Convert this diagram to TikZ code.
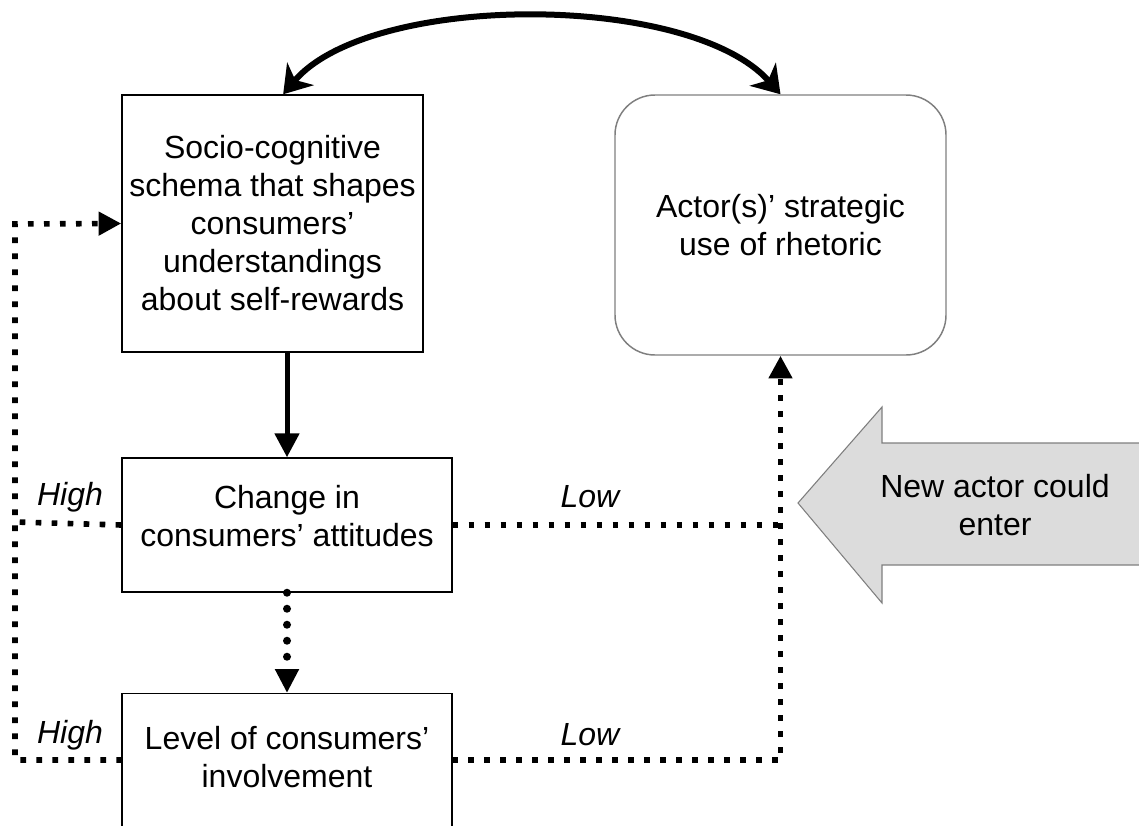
\documentclass[tikz,border=0pt]{standalone}
\usepackage{fontspec}
\setmainfont{Liberation Sans}
\usetikzlibrary{arrows.meta}
\definecolor{arrowfill}{HTML}{DCDCDC}
\definecolor{edgegray}{HTML}{7F7F7F}

\tikzset{
  box/.style={draw, line width=1.1pt, align=center, inner sep=0pt},
  dotline/.style={line width=4.2pt, dash pattern=on 4.2pt off 7.8pt},
  dottip/.style={-{Triangle[length=17pt,width=17pt]}},
  lbl/.style={font=\fontsize{24}{28.5}\selectfont\itshape},
}

\begin{document}
\begin{tikzpicture}[x=0.75pt,y=-0.75pt,font=\fontsize{24}{28.5}\selectfont]
\clip (0,0) rectangle (1139,825);
% boxes
\node[box, minimum width=225.75pt, minimum height=192.75pt] (socio) at (272.5,223.5)
  {Socio-cognitive\\schema that shapes\\consumers'\\understandings\\about self-rewards};
\node[box, draw=edgegray, rounded corners=30pt, minimum width=248.25pt, minimum height=195pt] (actor) at (780.5,225)
  {Actor(s)' strategic\\use of rhetoric};
\node[box, minimum width=247.5pt, minimum height=100.5pt] (change) at (287,525) {};
\node[align=center] (changetxt) at (287,516) {Change in\\consumers' attitudes};
\node[box, anchor=north, minimum width=247.5pt, minimum height=127.5pt] (lvl) at (287,693) {};
\node[align=center] (lvltxt) at (287,757) {Level of consumers'\\involvement};

% new actor arrow
\draw[edgegray, fill=arrowfill, line width=0.8pt] (798,503) -- (882,407) -- (882,443) -- (1150,443)
  -- (1150,565) -- (882,565) -- (882,603) -- cycle;
\node[align=center] (newactor) at (995,505) {New actor could\\enter};

% links
\draw[line width=4.5pt, {Stealth[length=20pt,width=26pt,inset=6pt]}-{Stealth[length=20pt,width=26pt,inset=6pt]}]
  ([xshift=8pt]socio.north) .. controls (370,-8) and (690,-8) .. (actor.north);
\draw[line width=3.75pt, -{Triangle[length=18pt,width=18pt]}] (socio.south -| change.north) -- (change.north);
\draw[line width=6pt, line cap=round, dash pattern=on 0pt off 12pt, -{Triangle[length=18pt,width=17pt]}]
  (change.south) -- (lvl.north);

% feedback lines
\coordinate (lvlw) at (122,760);
\coordinate (lvle) at (452,760);
\coordinate (corner) at (15,224);
\draw[dotline] (change.west) -- (15,522);
\draw[dotline, dottip] (lvlw) -| (corner) -- (socio.west);
\draw[dotline] (change.east) -- (actor.south |- change.east);
\draw[dotline, dottip] (lvle) -| (actor.south);

% labels
\node[lbl] (high1) at (70,497) {High};
\node[lbl] (high2) at (70,735) {High};
\node[lbl] (low1) at (590,497) {Low};
\node[lbl] (low2) at (590,735) {Low};
\end{tikzpicture}
\end{document}
